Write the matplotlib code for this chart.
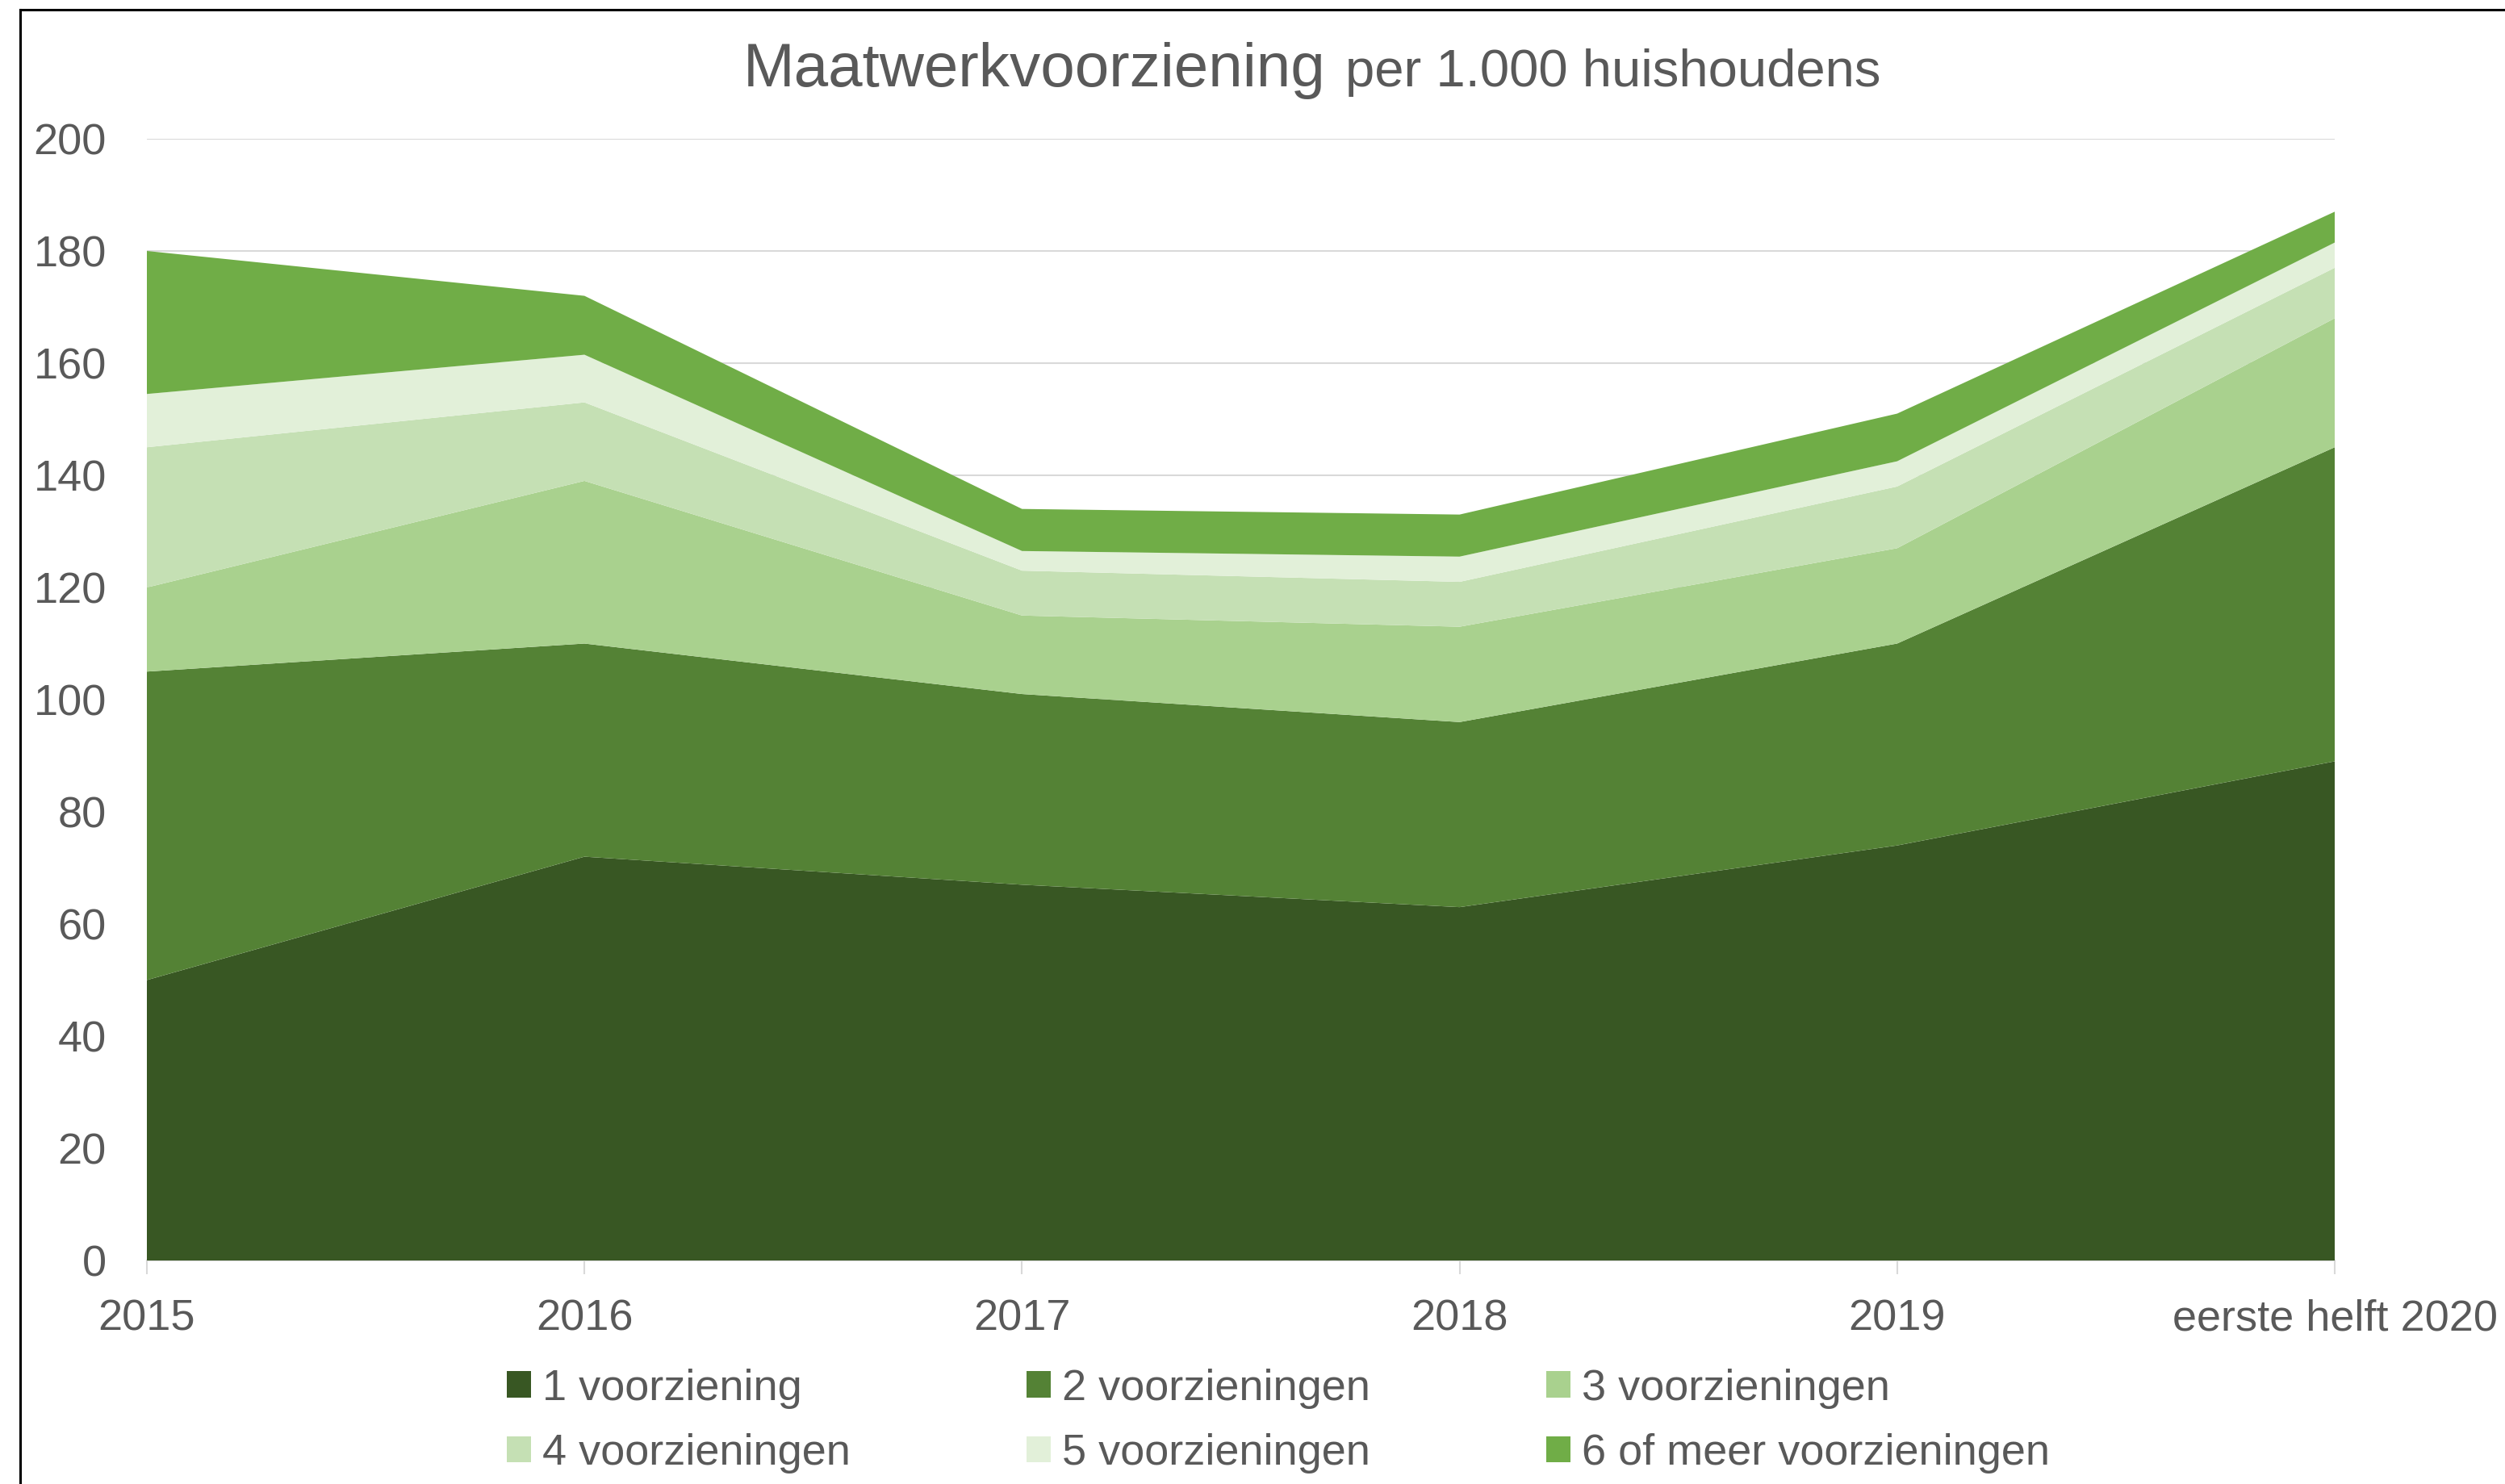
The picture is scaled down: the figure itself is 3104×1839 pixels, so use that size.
import matplotlib
matplotlib.use("Agg")
import matplotlib.pyplot as plt
from matplotlib.lines import Line2D
from matplotlib.patches import Patch

plt.rcParams['font.family'] = ['Liberation Sans', 'DejaVu Sans']

categories = ["2015", "2016", "2017", "2018", "2019", "eerste helft 2020"]
series_names = ["1 voorziening", "2 voorzieningen", "3 voorzieningen",
                "4 voorzieningen", "5 voorzieningen", "6 of meer voorzieningen"]
s1 = [50, 72, 67, 63, 74, 89]
s2 = [55, 38, 34, 33, 36, 56]
s3 = [15, 29, 14, 17, 17, 23]
s4 = [25, 14, 8, 8, 11, 9]
s5 = [9.5, 8.5, 3.5, 4.5, 4.5, 4.5]
s6 = [25.5, 10.5, 7.5, 7.5, 8.5, 5.5]
yticks = [0, 20, 40, 60, 80, 100, 120, 140, 160, 180, 200]

colors = ["#385723", "#548235", "#A9D18E", "#C5E0B4", "#E2F0D9", "#70AD47"]
txt = "#595959"
grid = "#D9D9D9"

W, H = 3104, 1839
fig = plt.figure(figsize=(W / 100, H / 100), dpi=100)
ax = fig.add_axes([182 / W, 1 - 1562 / H, (2893 - 182) / W, (1562 - 172) / H])

x = list(range(len(categories)))
polys = ax.stackplot(x, s1, s2, s3, s4, s5, s6, colors=colors, linewidth=0, zorder=2)

ax.set_xlim(0, len(categories) - 1)
ax.set_ylim(0, 200)
ax.set_yticks(yticks)
ax.set_yticklabels([str(v) for v in yticks])
ax.set_xticks(x)
ax.set_xticklabels(categories)
ax.set_axisbelow(True)
ax.yaxis.grid(True, color=grid, linewidth=1.5, zorder=0)
ax.xaxis.grid(False)
for s in ["top", "right", "left"]:
    ax.spines[s].set_visible(False)
ax.spines["bottom"].set_color(grid)
ax.spines["bottom"].set_linewidth(1.5)
ax.spines["bottom"].set_zorder(1)
ax.tick_params(axis="y", length=0, pad=36, labelsize=39, labelcolor=txt)
ax.tick_params(axis="x", length=12, width=1.5, color=grid, pad=22, labelsize=39, labelcolor=txt)

# Title
fig.text(921 / W, 1 - 107 / H, "Maatwerkvoorziening", fontsize=55, color=txt,
         ha="left", va="baseline")
fig.text(1667 / W, 1 - 107 / H, "per 1.000 huishoudens", fontsize=47, color=txt,
         ha="left", va="baseline")

# Legend (row-major order in 3 columns)
handles = [Patch(facecolor=c, edgecolor="none") for c in colors]
order = [0, 3, 1, 4, 2, 5]
leg = fig.legend([handles[i] for i in order], [series_names[i] for i in order],
                 ncol=3, loc="center", bbox_to_anchor=(1584 / W, 1 - 1761 / H),
                 frameon=False, fontsize=39, handlelength=0.54, handleheight=0.55,
                 handletextpad=0.26, columnspacing=4.04, labelspacing=0.56,
                 borderpad=0, borderaxespad=0)
for t in leg.get_texts():
    t.set_color(txt)

# Outer frame lines (top and left)
fig.add_artist(Line2D([24.5 / W, 1], [1 - 11.5 / H, 1 - 11.5 / H], transform=fig.transFigure,
                      color="black", linewidth=2.2))
fig.add_artist(Line2D([24.5 / W, 24.5 / W], [0, 1 - 11.5 / H], transform=fig.transFigure,
                      color="black", linewidth=2.2))

fig.savefig("out.png", dpi=100, facecolor="white")
